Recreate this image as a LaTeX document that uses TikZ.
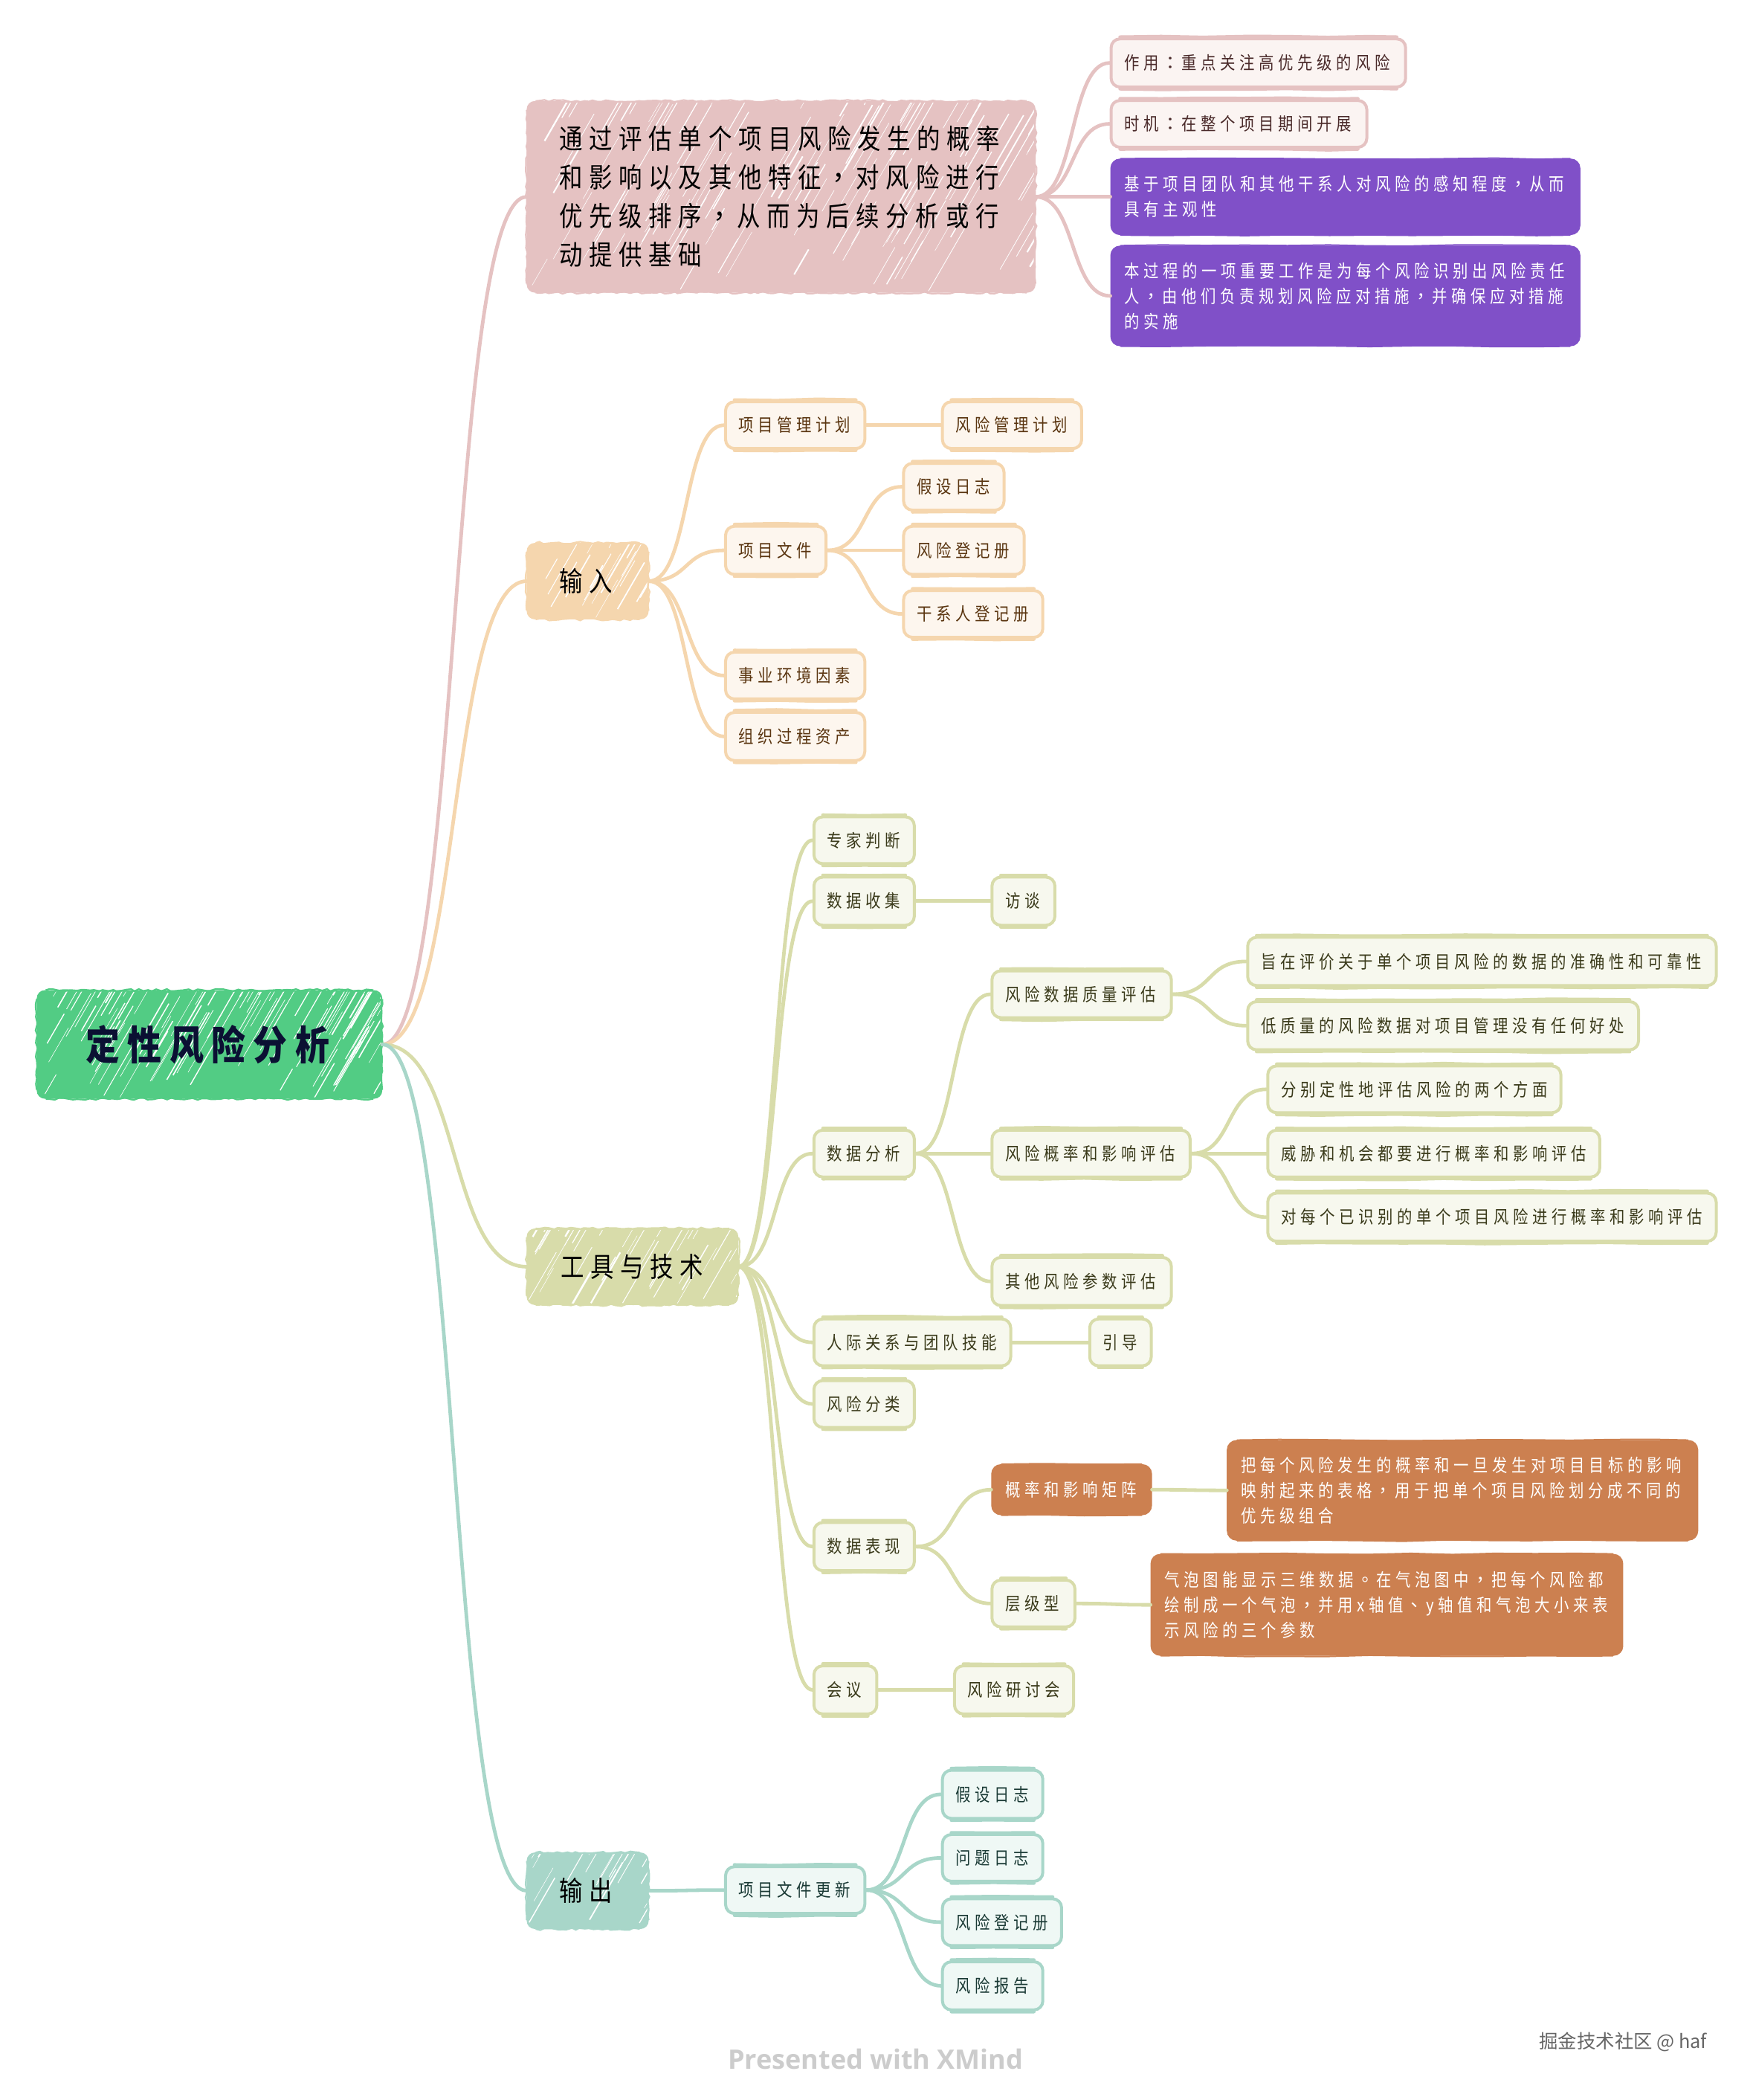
\documentclass[tikz,border=0pt]{standalone}
\usepackage{fontspec}
\usetikzlibrary{calc,decorations.pathmorphing}
\setmainfont{Noto Sans CJK SC}
\newfontfamily\cjkspaced[LetterSpace=23.3,FakeStretch=0.85]{Noto Sans CJK SC}
\newfontfamily\cjkpunct{Noto Sans CJK TC}
\newfontfamily\cjkroot[LetterSpace=19.5,FakeStretch=0.85]{Noto Sans CJK SC}
\newfontfamily\xmindfont{Open Sans}
\newcommand{\pc}[1]{\makebox[1.274em][c]{\cjkpunct #1}}
\definecolor{rootc}{HTML}{52CC84}
\definecolor{roott}{HTML}{0B1033}
\definecolor{pinkc}{HTML}{E5C2C2}
\definecolor{pinkl}{HTML}{FBF4F2}
\definecolor{pinkt}{HTML}{4A2A2A}
\definecolor{orc}{HTML}{F5D6AE}
\definecolor{orl}{HTML}{FDF6EE}
\definecolor{ort}{HTML}{5A3510}
\definecolor{olc}{HTML}{D8DCAA}
\definecolor{oll}{HTML}{F7F8EE}
\definecolor{olt}{HTML}{3A3A1A}
\definecolor{tec}{HTML}{A8D6C9}
\definecolor{tel}{HTML}{EFF8F5}
\definecolor{tet}{HTML}{1A3A35}
\definecolor{purp}{HTML}{8050C8}
\definecolor{brwn}{HTML}{CC8050}
\tikzset{
  x=0.9003pt,y=-0.9003pt,
  hatch/.style={path picture={
    \foreach \i in {1,...,#1}{
      \pgfmathsetmacro\hx{rnd}\pgfmathsetmacro\hy{rnd}
      \pgfmathsetmacro\hl{15+rnd*40}\pgfmathsetmacro\hw{0.25+rnd*rnd*1.1}
      \path coordinate (hh) at ($(path picture bounding box.south west)!\hx!(path picture bounding box.south east)$);
      \path coordinate (hk) at ($(path picture bounding box.north west)!\hx!(path picture bounding box.north east)$);
      \path coordinate (hh) at ($(hh)!\hy!(hk)$);
      \draw[draw=white,line width=\hw pt] (hh) -- ++(60:\hl pt);
    }}},
  rough/.style={draw=#1,fill=#1,line width=1pt,rounded corners=5pt},
  rootbox/.style={rough=rootc,hatch=110,text=roott,font=\cjkroot\fontsize{27}{32}\selectfont\bfseries},
  mainpink/.style={rough=pinkc,hatch=130,text=black,font=\cjkspaced\fontsize{18.5}{26}\selectfont},
  mainor/.style={rough=orc,hatch=20,text=black,font=\cjkspaced\fontsize{18.5}{26}\selectfont},
  mainol/.style={rough=olc,hatch=40,text=black,font=\cjkspaced\fontsize{18.5}{26}\selectfont},
  mainte/.style={rough=tec,hatch=20,text=black,font=\cjkspaced\fontsize{18.5}{26}\selectfont},
  small/.style={rounded corners=6pt,line width=2pt,font=\cjkspaced\fontsize{12}{17}\selectfont},
  leafpink/.style={small,draw=pinkc,fill=pinkl,text=pinkt},
  leafor/.style={small,draw=orc,fill=orl,text=ort},
  leafol/.style={small,draw=olc,fill=oll,text=olt},
  leafte/.style={small,draw=tec,fill=tel,text=tet},
  leafpurp/.style={small,line width=1pt,draw=purp,fill=purp,text=white},
  leafbrwn/.style={small,line width=1pt,draw=brwn,fill=brwn,text=white},
  linkline/.style={line width=2.4pt,line cap=round},
  jagged/.style={line width=1.1pt,decorate,decoration={random steps,segment length=3pt,amplitude=0.8pt}},
  wavy/.style={line width=2.3pt,line cap=round,decorate,decoration={random steps,segment length=28pt,amplitude=0.55pt}},
  wavythin/.style={line width=1pt,line cap=round,decorate,decoration={random steps,segment length=28pt,amplitude=0.5pt}},
}
\newcommand{\mapnode}[8]{%
  \pgfmathsetmacro\mapw{(#6-#4)*0.9003}%
  \pgfmathsetmacro\maph{(#7-#5)*0.9003}%
  \pgfmathsetmacro\mapp{#3*0.9003}%
  \pgfmathsetmacro\mapt{\mapw-2*\mapp}%
  \node[#2,minimum width=\mapw pt,minimum height=\maph pt,inner xsep=\mapp pt,inner ysep=0pt,text width=\mapt pt,align=left,anchor=center]
    (#1) at ({(#4+#6)/2},{(#5+#7)/2}) {#8};%
}
\newcommand{\maplink}[3]{%
  \draw[linkline,draw=#3] let \p1=(#1.east),\p2=(#2.west),\n1={0.55*(\x2-\x1)} in
    (\p1) .. controls (\x1+\n1,\y1) and (\x2-\n1,\y2) .. (\p2);%
}
% hand-drawn edges laid over a node's outline
\newcommand{\roughedge}[2]{%
  \draw[jagged,draw=#2] ([xshift=6pt]#1.north west) -- ([xshift=-6pt]#1.north east);
  \draw[jagged,draw=#2] ([xshift=6pt]#1.south west) -- ([xshift=-6pt]#1.south east);
  \draw[jagged,draw=#2] ([yshift=-6pt]#1.north west) -- ([yshift=6pt]#1.south west);
  \draw[jagged,draw=#2] ([yshift=-6pt]#1.north east) -- ([yshift=6pt]#1.south east);%
}
\newcommand{\softedge}[2]{%
  \draw[wavy,draw=#2] ([xshift=7pt,yshift=0.2pt]#1.north west) -- ([xshift=-7pt,yshift=0.2pt]#1.north east);
  \draw[wavy,draw=#2] ([xshift=7pt,yshift=-0.2pt]#1.south west) -- ([xshift=-7pt,yshift=-0.2pt]#1.south east);%
}
\newcommand{\thinedge}[2]{%
  \draw[wavythin,draw=#2] ([xshift=7pt]#1.north west) -- ([xshift=-7pt]#1.north east);
  \draw[wavythin,draw=#2] ([xshift=7pt]#1.south west) -- ([xshift=-7pt]#1.south east);%
}
\begin{document}
\begin{tikzpicture}
\useasboundingbox (0,0) rectangle (1309.5,1568.3);
\pgfmathsetseed{4217}
% root
\mapnode{root}{rootbox}{36}{28}{740}{285}{820}{定性风险分析}
% branch 1
\mapnode{m1}{mainpink}{24}{394}{76}{773}{218}{通过评估单个项目风险发生的概率\\和影响以及其他特征\pc{，}对风险进行\\优先级排序\pc{，}从而为后续分析或行\\动提供基础}
\mapnode{a1}{leafpink}{10}{830}{29}{1050}{65}{作用\pc{：}重点关注高优先级的风险}
\mapnode{a2}{leafpink}{10}{830}{75}{1021}{110}{时机\pc{：}在整个项目期间开展}
\mapnode{a3}{leafpurp}{10}{830}{119}{1180}{175}{基于项目团队和其他干系人对风险的感知程度\pc{，}从而\\具有主观性}
\mapnode{a4}{leafpurp}{10}{830}{184}{1180}{258}{本过程的一项重要工作是为每个风险识别出风险责任\\人\pc{，}由他们负责规划风险应对措施\pc{，}并确保应对措施\\的实施}
% branch 2
\mapnode{m2}{mainor}{24}{394}{406}{484}{462}{输入}
\mapnode{b1}{leafor}{10}{542}{300}{646}{335}{项目管理计划}
\mapnode{b11}{leafor}{10}{704}{300}{808}{335}{风险管理计划}
\mapnode{b2}{leafor}{10}{542}{393}{617}{429}{项目文件}
\mapnode{b21}{leafor}{10}{675}{346}{750}{381}{假设日志}
\mapnode{b22}{leafor}{10}{675}{393}{765}{429}{风险登记册}
\mapnode{b23}{leafor}{10}{675}{441}{779}{476}{干系人登记册}
\mapnode{b3}{leafor}{10}{542}{487}{646}{522}{事业环境因素}
\mapnode{b4}{leafor}{10}{542}{532}{646}{568}{组织过程资产}
% branch 3
\mapnode{m3}{mainol}{25}{394}{918}{551}{974}{工具与技术}
\mapnode{c1}{leafol}{10}{608}{610}{683}{645}{专家判断}
\mapnode{c2}{leafol}{10}{608}{655}{683}{691}{数据收集}
\mapnode{c21}{leafol}{10}{741}{655}{788}{691}{访谈}
\mapnode{c3}{leafol}{10}{608}{844}{683}{879}{数据分析}
\mapnode{c31}{leafol}{10}{741}{725}{875}{760}{风险数据质量评估}
\mapnode{c311}{leafol}{10}{932}{700}{1282}{736}{旨在评价关于单个项目风险的数据的准确性和可靠性}
\mapnode{c312}{leafol}{10}{932}{748}{1224}{784}{低质量的风险数据对项目管理没有任何好处}
\mapnode{c32}{leafol}{10}{741}{844}{889}{879}{风险概率和影响评估}
\mapnode{c321}{leafol}{10}{947}{796}{1166}{831}{分别定性地评估风险的两个方面}
\mapnode{c322}{leafol}{10}{947}{844}{1195}{879}{威胁和机会都要进行概率和影响评估}
\mapnode{c323}{leafol}{10}{947}{891}{1282}{927}{对每个已识别的单个项目风险进行概率和影响评估}
\mapnode{c33}{leafol}{10}{741}{939}{875}{975}{其他风险参数评估}
\mapnode{c4}{leafol}{10}{608}{985}{755}{1020}{人际关系与团队技能}
\mapnode{c41}{leafol}{10}{814}{985}{860}{1020}{引导}
\mapnode{c5}{leafol}{10}{608}{1031}{683}{1066}{风险分类}
\mapnode{c6}{leafol}{10}{608}{1137}{683}{1173}{数据表现}
\mapnode{c61}{leafbrwn}{10}{741}{1094}{860}{1131}{概率和影响矩阵}
\mapnode{c611}{leafbrwn}{10}{917}{1076}{1268}{1150}{把每个风险发生的概率和一旦发生对项目目标的影响\\映射起来的表格\pc{，}用于把单个项目风险划分成不同的\\优先级组合}
\mapnode{c62}{leafol}{10}{741}{1180}{803}{1215}{层级型}
\mapnode{c621}{leafbrwn}{10}{860}{1161}{1212}{1236}{气泡图能显示三维数据\pc{。}在气泡图中\pc{，}把每个风险都\\绘制成一个气泡\pc{，}并用x轴值\pc{、}y轴值和气泡大小来表\\示风险的三个参数}
\mapnode{c7}{leafol}{10}{608}{1244}{655}{1280}{会议}
\mapnode{c71}{leafol}{10}{713}{1244}{802}{1280}{风险研讨会}
% branch 4
\mapnode{m4}{mainte}{24}{394}{1384}{484}{1440}{输出}
\mapnode{d1}{leafte}{10}{542}{1394}{646}{1429}{项目文件更新}
\mapnode{d11}{leafte}{10}{704}{1322}{779}{1358}{假设日志}
\mapnode{d12}{leafte}{10}{704}{1370}{779}{1405}{问题日志}
\mapnode{d13}{leafte}{10}{704}{1418}{793}{1453}{风险登记册}
\mapnode{d14}{leafte}{10}{704}{1465}{779}{1501}{风险报告}
% hand-drawn outlines
\roughedge{root}{rootc}
\roughedge{m1}{pinkc}
\roughedge{m2}{orc}
\roughedge{m3}{olc}
\roughedge{m4}{tec}
\foreach \k in {a1,a2}{\softedge{\k}{pinkc}}
\foreach \k in {a3,a4}{\thinedge{\k}{purp}}
\foreach \k in {b1,b11,b2,b21,b22,b23,b3,b4}{\softedge{\k}{orc}}
\foreach \k in {c1,c2,c21,c3,c31,c311,c312,c32,c321,c322,c323,c33,c4,c41,c5,c6,c62,c7,c71}{\softedge{\k}{olc}}
\foreach \k in {c61,c611,c621}{\thinedge{\k}{brwn}}
\foreach \k in {d1,d11,d12,d13,d14}{\softedge{\k}{tec}}
% connectors
\maplink{root}{m1}{pinkc}
\maplink{root}{m2}{orc}
\maplink{root}{m3}{olc}
\maplink{root}{m4}{tec}
\foreach \k in {a1,a2,a3,a4}{\maplink{m1}{\k}{pinkc}}
\foreach \k in {b1,b2,b3,b4}{\maplink{m2}{\k}{orc}}
\maplink{b1}{b11}{orc}
\foreach \k in {b21,b22,b23}{\maplink{b2}{\k}{orc}}
\foreach \k in {c1,c2,c3,c4,c5,c6,c7}{\maplink{m3}{\k}{olc}}
\maplink{c2}{c21}{olc}
\foreach \k in {c31,c32,c33}{\maplink{c3}{\k}{olc}}
\foreach \k in {c311,c312}{\maplink{c31}{\k}{olc}}
\foreach \k in {c321,c322,c323}{\maplink{c32}{\k}{olc}}
\maplink{c4}{c41}{olc}
\maplink{c6}{c61}{olc}
\maplink{c6}{c62}{olc}
\maplink{c61}{c611}{olc}
\maplink{c62}{c621}{olc}
\maplink{c7}{c71}{olc}
\maplink{m4}{d1}{tec}
\foreach \k in {d11,d12,d13,d14}{\maplink{d1}{\k}{tec}}
% page marks
\node[text=black!20,font=\xmindfont\fontsize{18}{22}\selectfont\bfseries,inner sep=0pt] (wm) at (654,1538) {Presented with XMind};
\node[text=black!60,font=\fontsize{12.7}{15}\selectfont,inner sep=0pt] (jj) at (1212.5,1525) {掘金技术社区 @ haf};
\end{tikzpicture}
\end{document}
